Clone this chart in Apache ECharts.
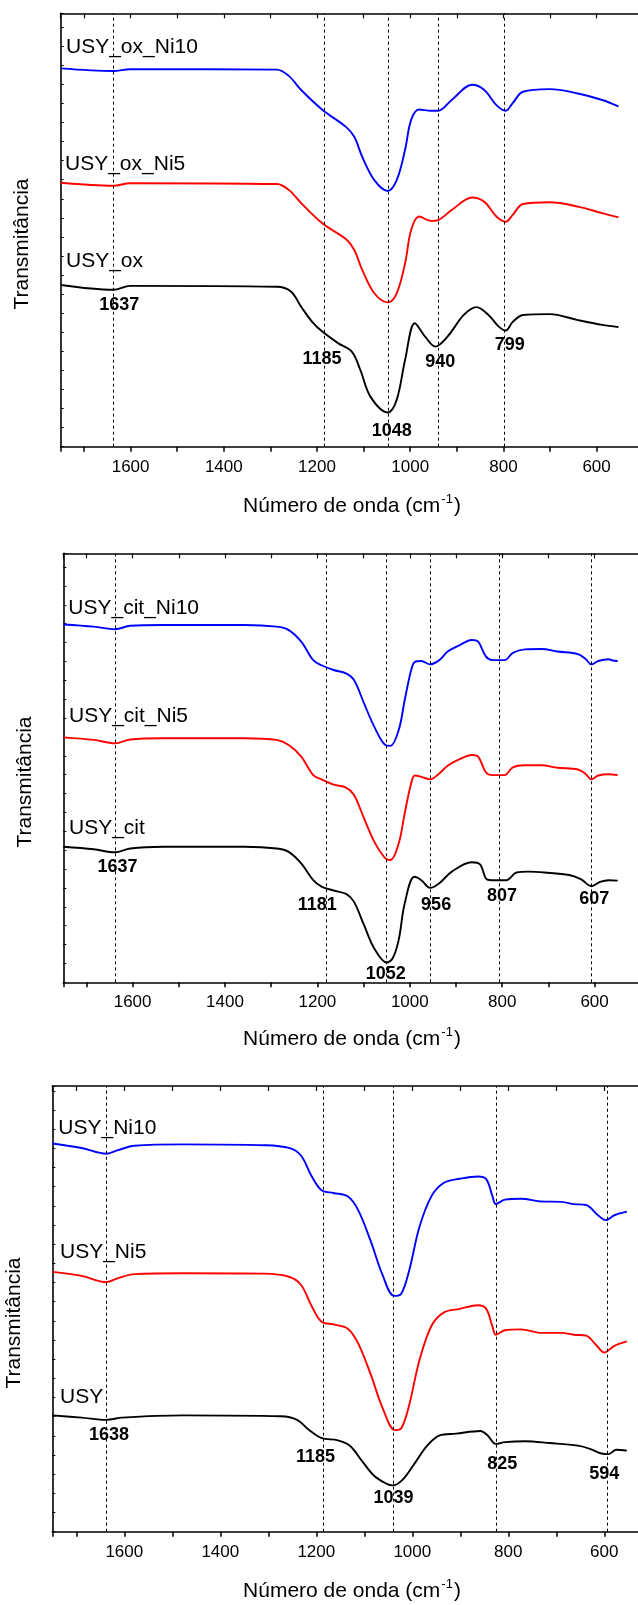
<!DOCTYPE html>
<html>
<head>
<meta charset="utf-8">
<script src="https://cdn.jsdelivr.net/npm/echarts@6/dist/echarts.min.js"></script>
<style>
  html, body { margin: 0; padding: 0; background: #fff; }
  #chart { width: 638px; height: 1605px; }
</style>
</head>
<body>
<div id="chart"></div>
<script>
// FTIR spectra, wavenumber (cm-1) vs transmittance (a.u., stacked)

// ---- Panel 1: oxalic-treated series ----
const usyOxNi10 = [[1750,87.3],[1637,86.7],[1601,87.1],[1286,87.0],[1260,85.5],[1234,82.3],[1188,77.7],[1138,73.8],[1120,71.5],[1103,66.9],[1077,61.5],[1048,59.0],[1029,61.5],[1011,68.5],[998,75.4],[981,77.8],[955,77.5],[940,77.5],[911,80.0],[867,83.5],[841,82.3],[815,78.8],[795,77.5],[780,79.3],[758,81.9],[701,82.5],[640,81.5],[588,80.0],[553,78.5]];
const usyOxNi5 = [[1750,60.9],[1637,60.2],[1601,60.8],[1286,60.6],[1260,59.2],[1234,56.2],[1188,51.5],[1138,47.9],[1120,45.4],[1103,40.8],[1077,35.4],[1048,33.3],[1029,35.4],[1011,42.3],[998,50.0],[981,53.1],[955,52.1],[940,52.3],[911,54.6],[867,57.5],[841,56.5],[815,53.1],[795,51.9],[780,53.5],[758,56.0],[701,56.4],[640,55.4],[588,53.9],[553,52.9]];
const usyOx = [[1750,37.3],[1637,36.2],[1601,37.1],[1286,36.9],[1256,35.8],[1234,32.3],[1208,28.5],[1188,26.5],[1155,23.9],[1125,21.9],[1107,17.7],[1085,11.5],[1048,7.9],[1029,10.8],[1011,20.0],[990,28.5],[968,25.4],[946,23.1],[920,25.4],[885,30.4],[858,32.2],[832,30.4],[810,27.7],[795,26.8],[780,28.8],[758,30.4],[701,30.6],[640,29.2],[588,28.1],[553,27.6]];
const peaksOx = [1637, 1185, 1048, 940, 799];

// ---- Panel 2: citric-treated series ----
const usyCitNi10 = [[1750,83.4],[1684,82.9],[1638,82.3],[1605,83.1],[1535,83.3],[1358,83.3],[1288,82.9],[1262,82.1],[1235,79.4],[1209,75.1],[1191,73.9],[1165,72.8],[1138,72.0],[1121,70.5],[1099,65.0],[1077,59.6],[1053,55.3],[1042,55.1],[1024,58.8],[1011,65.8],[997,72.8],[989,74.7],[975,74.9],[956,74.1],[936,75.1],[918,77.1],[892,78.6],[866,79.8],[852,79.4],[835,75.9],[821,75.1],[795,75.1],[777,76.8],[751,77.6],[715,77.7],[680,77.1],[636,76.5],[619,75.3],[607,74.1],[592,74.9],[570,75.3],[561,75.0],[550,74.9]];
const usyCitNi5 = [[1750,57.1],[1684,56.5],[1638,55.7],[1605,56.6],[1535,56.9],[1358,56.9],[1288,56.5],[1262,55.3],[1235,52.6],[1209,48.3],[1191,47.3],[1165,46.1],[1138,45.4],[1121,43.7],[1099,38.2],[1077,32.8],[1053,28.9],[1042,28.5],[1024,32.4],[1011,39.4],[997,46.4],[989,48.2],[975,47.9],[956,47.3],[936,48.7],[918,50.5],[892,52.0],[866,53.0],[852,52.6],[835,48.9],[821,48.3],[795,48.3],[777,50.1],[751,50.6],[715,50.6],[680,50.0],[636,49.6],[619,48.5],[607,47.3],[592,48.2],[570,48.5],[550,48.3]];
const usyCit = [[1750,31.6],[1684,31.0],[1638,30.3],[1605,31.2],[1535,31.6],[1358,31.6],[1288,31.2],[1262,30.4],[1235,27.7],[1209,23.8],[1191,22.3],[1165,21.4],[1138,20.6],[1121,18.8],[1099,13.3],[1077,7.9],[1050,4.6],[1037,5.6],[1024,9.9],[1011,18.4],[990,24.6],[975,23.8],[956,22.0],[936,23.1],[909,25.8],[866,28.0],[848,27.5],[833,24.0],[818,23.8],[791,23.8],[769,25.6],[743,25.8],[708,25.6],[655,25.0],[629,24.0],[607,22.4],[588,23.4],[570,23.8],[550,23.7]];
const peaksCit = [1637, 1181, 1052, 956, 807, 607];

// ---- Panel 3: parent zeolite series ----
const usyNi10 = [[1750,87.1],[1689,86.1],[1637,84.8],[1613,85.6],[1579,86.6],[1477,86.9],[1308,86.7],[1257,86.1],[1232,84.4],[1210,79.8],[1189,76.6],[1164,76.0],[1134,75.2],[1113,72.2],[1087,65.3],[1062,57.6],[1038,52.9],[1023,53.4],[1007,58.4],[985,68.4],[960,75.3],[934,78.3],[901,79.2],[863,79.7],[846,79.1],[833,75.3],[826,73.5],[807,74.5],[774,74.7],[731,74.1],[689,74.0],[663,73.5],[638,73.3],[613,71.0],[597,69.9],[579,71.0],[553,71.8]];
const usyNi5 = [[1750,58.3],[1689,57.4],[1637,56.0],[1613,56.9],[1579,57.8],[1477,58.0],[1308,57.9],[1257,57.2],[1232,55.4],[1210,50.7],[1189,47.1],[1164,46.5],[1134,45.5],[1113,42.3],[1087,35.4],[1062,27.8],[1036,22.8],[1023,23.2],[1007,28.2],[985,38.5],[960,46.2],[934,49.2],[901,50.0],[863,50.8],[846,50.0],[833,46.0],[826,44.2],[807,45.2],[774,45.4],[731,44.6],[689,44.6],[663,44.2],[638,44.0],[617,41.9],[600,40.2],[579,41.7],[553,42.7]];
const usy = [[1750,26.1],[1689,25.6],[1637,25.1],[1605,25.6],[1477,26.1],[1274,25.9],[1240,25.1],[1215,22.8],[1189,21.0],[1155,20.5],[1130,19.3],[1105,15.9],[1079,12.5],[1054,10.8],[1041,10.4],[1020,11.7],[994,15.5],[969,19.3],[943,21.6],[909,22.0],[858,22.6],[843,21.6],[826,19.7],[807,20.1],[765,20.3],[714,19.9],[655,19.3],[630,18.6],[608,17.6],[591,17.4],[575,18.4],[553,18.2]];
const peaksUsy = [1638, 1185, 1039, 825, 594];

// ---- layout ----
const FONT = '"Liberation Sans", Arial, sans-serif';
const grids = [
  { left: 60.7, top: 13.3, width: 582.5, height: 433.4, yInterval: 4.4 },
  { left: 63.3, top: 553.3, width: 577.5, height: 429, yInterval: 4.4 },
  { left: 52.3, top: 1086, width: 600, height: 445.7, yInterval: 4.3 }
];
// peak label placement per panel: [y in axis units, horizontal px offset]
const peakLabelPlace = [
  [[32.7, 6], [20.2, -2], [3.6, 4], [19.5, 2], [23.5, 6]],
  [[26.8, 2], [17.9, -9], [1.9, 0], [17.9, 6], [20.1, 3], [19.4, 3]],
  [[21.7, 3], [16.7, -8], [7.5, 0], [15.1, 6], [12.9, -3]]
];
const panels = [
  { names: ['USY_ox_Ni10', 'USY_ox_Ni5', 'USY_ox'], data: [usyOxNi10, usyOxNi5, usyOx], peaks: peaksOx,
    namePos: [[66, 47.5], [65, 164.5], [66, 261]], yTitle: [22, 244], xTitleY: 505 },
  { names: ['USY_cit_Ni10', 'USY_cit_Ni5', 'USY_cit'], data: [usyCitNi10, usyCitNi5, usyCit], peaks: peaksCit,
    namePos: [[68.3, 608.7], [69, 716.7], [69, 828.3]], yTitle: [25, 782], xTitleY: 1038 },
  { names: ['USY_Ni10', 'USY_Ni5', 'USY'], data: [usyNi10, usyNi5, usy], peaks: peaksUsy,
    namePos: [[58.3, 1128], [60, 1252.6], [60, 1397.6]], yTitle: [14, 1323], xTitleY: 1590 }
];
const colors = ['#0000ff', '#ff0000', '#000000'];

const option = {
  animation: false,
  backgroundColor: '#fff',
  textStyle: { fontFamily: FONT },
  grid: grids.map(g => ({
    left: g.left, top: g.top, width: g.width, height: g.height,
    containLabel: false, outerBoundsMode: 'none'
  })),
  xAxis: [],
  yAxis: [],
  series: [],
  graphic: []
};

grids.forEach((g, i) => {
  const axisLine = { show: true, onZero: false, lineStyle: { color: '#000', width: 1.6 } };
  option.xAxis.push({
    type: 'value', gridIndex: i, position: 'bottom', min: 500, max: 1750, interval: 100, inverse: true,
    axisLine, splitLine: { show: false },
    axisTick: { show: true, inside: false, length: 5, lineStyle: { color: '#000', width: 1.5 } },
    axisLabel: {
      show: true, margin: 12, color: '#000', fontSize: 17, fontFamily: FONT,
      formatter: v => (v % 200 === 0 && v >= 600 && v <= 1600) ? String(v) : ''
    }
  });
  option.xAxis.push({
    type: 'value', gridIndex: i, position: 'top', min: 500, max: 1750, interval: 100, inverse: true,
    axisLine, splitLine: { show: false },
    axisTick: { show: true, inside: true, length: 5, lineStyle: { color: '#000', width: 1.2 } },
    axisLabel: { show: false }
  });
  option.yAxis.push({
    type: 'value', gridIndex: i, min: 0, max: 100, interval: g.yInterval,
    axisLine, splitLine: { show: false },
    axisTick: { show: true, inside: true, length: 3, lineStyle: { color: '#000', width: 1 } },
    axisLabel: { show: false }
  });
});

panels.forEach((p, i) => {
  p.data.forEach((d, k) => {
    const s = {
      type: 'line', name: p.names[k], xAxisIndex: i * 2, yAxisIndex: i,
      data: d, showSymbol: false, symbol: 'none', smooth: 0.35,
      lineStyle: { color: colors[k], width: 1.9 }, z: 3
    };
    if (k === 2) {
      s.markLine = {
        silent: true, symbol: ['none', 'none'], animation: false,
        lineStyle: { color: '#000', width: 1, type: [3, 3] },
        label: { show: false },
        data: p.peaks.map(v => ({ xAxis: v }))
      };
      s.markPoint = {
        silent: true, animation: false, symbol: 'circle', symbolSize: 0,
        data: p.peaks.map((v, j) => ({
          coord: [v, peakLabelPlace[i][j][0]], value: v,
          label: {
            show: true, position: 'inside', offset: [peakLabelPlace[i][j][1], 0],
            formatter: String(v), color: '#000', fontSize: 18, fontWeight: 'bold', fontFamily: FONT
          }
        }))
      };
    }
    option.series.push(s);
  });

  p.names.forEach((n, k) => {
    option.graphic.push({
      type: 'text', x: p.namePos[k][0], y: p.namePos[k][1], z: 10,
      style: { text: n, fill: '#000', font: '21px ' + FONT, align: 'left', verticalAlign: 'middle' }
    });
  });
  option.graphic.push({
    type: 'text', x: p.yTitle[0], y: p.yTitle[1], rotation: Math.PI / 2, z: 10,
    style: { text: 'Transmitância', fill: '#000', font: '21px ' + FONT, align: 'center', verticalAlign: 'middle' }
  });
  option.graphic.push({
    type: 'text', x: 352, y: p.xTitleY, z: 10,
    style: {
      text: '{a|Número de onda (cm}{s|-1}{a|)}', align: 'center', verticalAlign: 'middle',
      rich: {
        a: { fontSize: 21, fontFamily: FONT, fill: '#000', lineHeight: 24, verticalAlign: 'bottom' },
        s: { fontSize: 13, fontFamily: FONT, fill: '#000', lineHeight: 24, verticalAlign: 'top', padding: [0, 1, 0, 1] }
      }
    }
  });
});

const chart = echarts.init(document.getElementById('chart'), null, { renderer: 'canvas' });
chart.setOption(option);
</script>
</body>
</html>
